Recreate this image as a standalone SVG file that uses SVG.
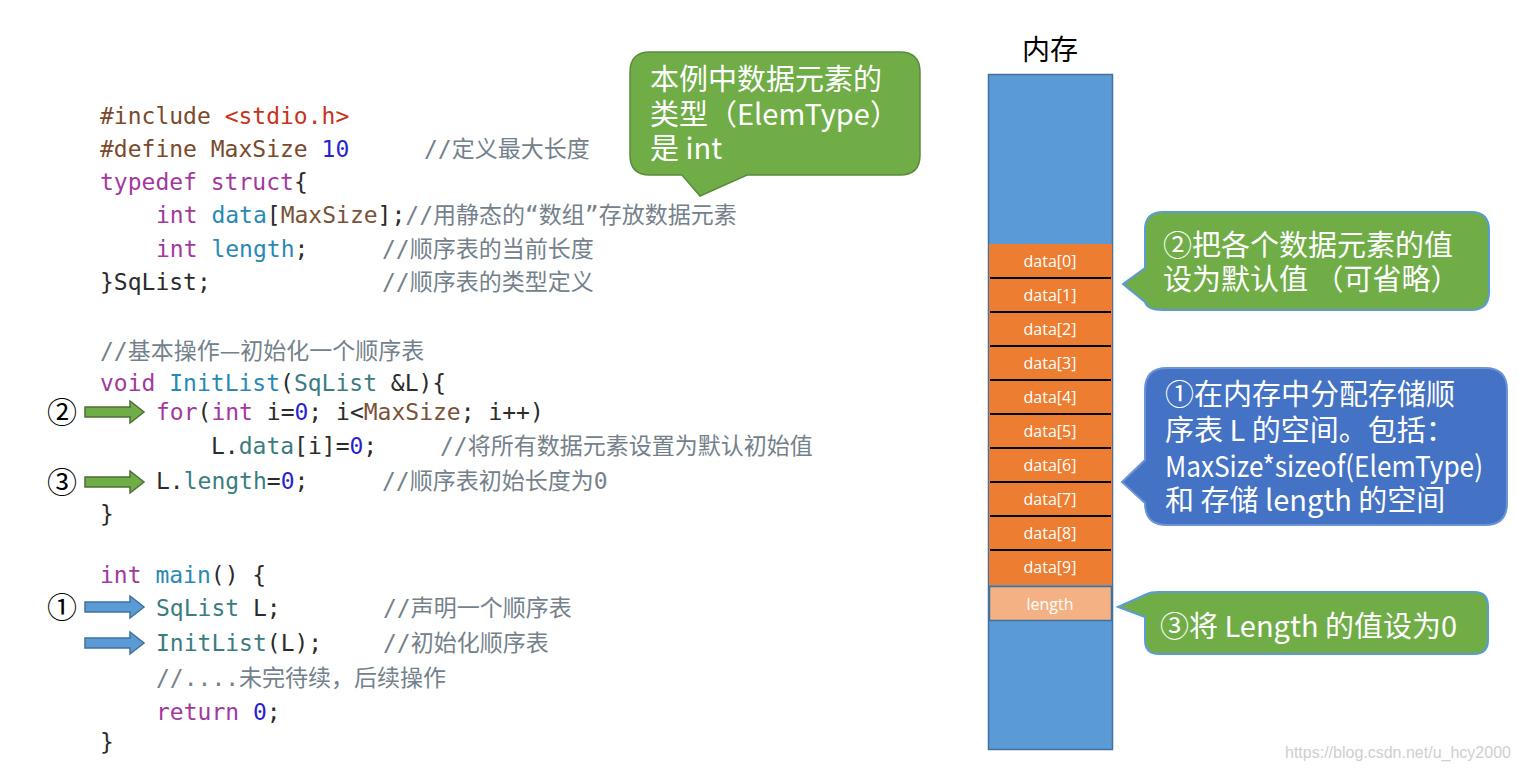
<svg xmlns="http://www.w3.org/2000/svg" width="1517" height="771" viewBox="0 0 1517 771">
<style>
.code{font-family:"DejaVu Sans Mono","Noto Sans CJK SC",monospace;font-size:23px;fill:#2b2b2b;white-space:pre}
.cm{fill:#74818c}
.pp{fill:#7a4a2c}
.str{fill:#c8321e}
.num{fill:#2b1fd0}
.kw{fill:#a3389e}
.fld{fill:#2a88b5}
.mac{fill:#7a5238}
.tl{fill:#3b7c80}
.cjk{font-family:"Noto Sans CJK SC",sans-serif}
.circ{font-family:"Noto Sans CJK SC",serif;font-size:30px;fill:#000;text-anchor:middle}
.garr{fill:#70ad47;stroke:#4f6d3a;stroke-width:1.5}
.barr{fill:#5b9bd5;stroke:#41719c;stroke-width:1.5}
.ct{font-family:"Noto Sans CJK SC",sans-serif;font-size:29px;fill:#fff}
.cell{fill:#ed7d31}
.sep{stroke:#000;stroke-width:2}
.cl{font-family:"Open Sans","Noto Sans",sans-serif;font-size:16px;fill:#fff;text-anchor:middle}
</style>

<g id="code" class="code" xml:space="preserve">
<text x="100" y="124"><tspan class="pp">#include </tspan><tspan class="str">&lt;stdio.h&gt;</tspan></text>
<text x="100" y="157"><tspan class="pp">#define MaxSize </tspan><tspan class="num">10</tspan></text>
<text x="424" y="157" class="cm">//定义最大长度</text>
<text x="100" y="190"><tspan class="kw">typedef struct</tspan>{</text>
<text x="156" y="223"><tspan class="kw">int</tspan> <tspan class="fld">data</tspan>[<tspan class="mac">MaxSize</tspan>];<tspan class="cm">//用静态的“数组”存放数据元素</tspan></text>
<text x="156" y="257"><tspan class="kw">int</tspan> <tspan class="fld">length</tspan>;</text>
<text x="382" y="257" class="cm">//顺序表的当前长度</text>
<text x="100" y="290">}SqList;</text>
<text x="382" y="290" class="cm">//顺序表的类型定义</text>
<text x="100" y="359" class="cm">//基本操作<tspan class="cjk">—</tspan>初始化一个顺序表</text>
<text x="100" y="391"><tspan class="kw">void</tspan> <tspan class="fld">InitList</tspan>(<tspan class="tl">SqList</tspan> &amp;L){</text>
<text x="156" y="420"><tspan class="kw">for</tspan>(<tspan class="kw">int</tspan> i=<tspan class="num">0</tspan>; i&lt;<tspan class="mac">MaxSize</tspan>; i++)</text>
<text x="211" y="454">L.<tspan class="tl">data</tspan>[i]=<tspan class="num">0</tspan>;</text>
<text x="440" y="454" class="cm">//将所有数据元素设置为默认初始值</text>
<text x="156" y="489">L.<tspan class="tl">length</tspan>=<tspan class="num">0</tspan>;</text>
<text x="382" y="489" class="cm">//顺序表初始长度为0</text>
<text x="100" y="522">}</text>
<text x="100" y="583"><tspan class="kw">int</tspan> <tspan class="fld">main</tspan>() {</text>
<text x="156" y="616"><tspan class="tl">SqList</tspan> L;</text>
<text x="383" y="616" class="cm">//声明一个顺序表</text>
<text x="156" y="651"><tspan class="tl">InitList</tspan>(L);</text>
<text x="383" y="651" class="cm">//初始化顺序表</text>
<text x="156" y="686" class="cm">//....未完待续，后续操作</text>
<text x="156" y="720"><tspan class="kw">return</tspan> <tspan class="num">0</tspan>;</text>
<text x="100" y="750">}</text>
</g>

<g id="step-markers">
<text class="circ" x="62" y="423">②</text>
<text class="circ" x="62" y="493">③</text>
<text class="circ" x="62" y="618">①</text>
</g>

<g id="connectors">
<polygon class="garr" points="85,407 130,407 130,401 144,412 130,423 130,417 85,417"/>
<polygon class="garr" points="85,477 130,477 130,471 144,482 130,493 130,487 85,487"/>
<polygon class="barr" points="85,602 130,602 130,596 144,607 130,618 130,612 85,612"/>
<polygon class="barr" points="85,638 130,638 130,632 144,643 130,654 130,648 85,648"/>
</g>

<g id="callout-elemtype">
<path d="M650,52 H900 Q920,52 920,72 V155 Q920,175 900,175 H747 L700,196 L682,175 H650 Q630,175 630,155 V72 Q630,52 650,52 Z" fill="#70ad47" stroke="#5a8a3c" stroke-width="1.5"/>
<text class="ct"><tspan x="650" y="90">本例中数据元素的</tspan><tspan x="650" y="125">类型（ElemType）</tspan><tspan x="650" y="159">是 int</tspan></text>
</g>

<g id="memory">
<text x="1050" y="60" font-family="Noto Sans CJK SC, sans-serif" font-size="28" fill="#000" text-anchor="middle">内存</text>
<rect x="988.5" y="74.5" width="124" height="675" fill="#5b9bd5" stroke="#41719c" stroke-width="1.5"/>
<rect class="cell" x="989" y="244" width="123" height="341"/>
<line class="sep" x1="990" y1="278" x2="1111" y2="278"/>
<line class="sep" x1="990" y1="312" x2="1111" y2="312"/>
<line class="sep" x1="990" y1="346" x2="1111" y2="346"/>
<line class="sep" x1="990" y1="380" x2="1111" y2="380"/>
<line class="sep" x1="990" y1="414" x2="1111" y2="414"/>
<line class="sep" x1="990" y1="448" x2="1111" y2="448"/>
<line class="sep" x1="990" y1="482" x2="1111" y2="482"/>
<line class="sep" x1="990" y1="516" x2="1111" y2="516"/>
<line class="sep" x1="990" y1="550" x2="1111" y2="550"/>
<text class="cl" x="1050" y="267">data[0]</text>
<text class="cl" x="1050" y="301">data[1]</text>
<text class="cl" x="1050" y="335">data[2]</text>
<text class="cl" x="1050" y="369">data[3]</text>
<text class="cl" x="1050" y="403">data[4]</text>
<text class="cl" x="1050" y="437">data[5]</text>
<text class="cl" x="1050" y="471">data[6]</text>
<text class="cl" x="1050" y="505">data[7]</text>
<text class="cl" x="1050" y="539">data[8]</text>
<text class="cl" x="1050" y="573">data[9]</text>
<rect x="989.5" y="586.5" width="122" height="34" fill="#f4b183" stroke="#41719c" stroke-width="1.5"/>
<text class="cl" x="1050" y="610">length</text>
</g>

<g id="callout-step2">
<path d="M1163,212 H1471 Q1489,212 1489,230 V292 Q1489,310 1471,310 H1163 Q1147,310 1145,302 L1123,284 L1145,268 V230 Q1145,212 1163,212 Z" fill="#70ad47" stroke="#5b9bd5" stroke-width="2"/>
<text class="ct"><tspan x="1163" y="256">②把各个数据元素的值</tspan><tspan x="1163" y="290">设为默认值 （可省略）</tspan></text>
</g>

<g id="callout-step1">
<path d="M1167,368 H1485 Q1507,368 1507,390 V503 Q1507,525 1485,525 H1167 Q1145,525 1145,503 L1122,482 L1145,460 V390 Q1145,368 1167,368 Z" fill="#4472c4" stroke="#6a93d8" stroke-width="2"/>
<text class="ct"><tspan x="1165" y="405">①在内存中分配存储顺</tspan><tspan x="1165" y="441">序表 L 的空间。包括：</tspan><tspan x="1165" y="477" textLength="318" lengthAdjust="spacingAndGlyphs">MaxSize*sizeof(ElemType)</tspan><tspan x="1165" y="511">和 存储 length 的空间</tspan></text>
</g>

<g id="callout-step3">
<path d="M1159,592 H1474 Q1488,592 1488,606 V640 Q1488,654 1474,654 H1159 Q1145,654 1145,640 V617 L1118,607 L1147,594 Q1150,592 1159,592 Z" fill="#70ad47" stroke="#5b9bd5" stroke-width="2"/>
<text class="ct" x="1160" y="637">③将 Length 的值设为0</text>
</g>

<text x="1285" y="758" font-family="Liberation Sans, Arial, sans-serif" font-size="16" fill="#cfcfcf">https://blog.csdn.net/u_hcy2000</text>
</svg>
